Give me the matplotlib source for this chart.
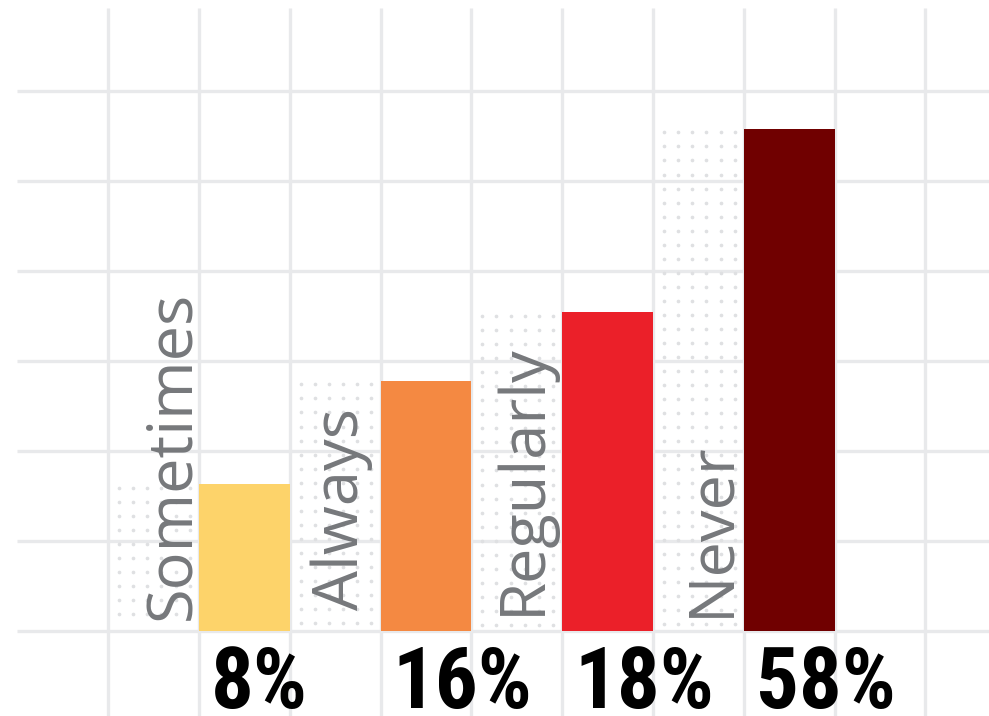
import numpy as np
import matplotlib.pyplot as plt
from matplotlib import font_manager

# data
categories = ["Sometimes", "Always", "Regularly", "Never"]
pct_labels = ["8%", "16%", "18%", "58%"]
bar_heights = [1.63, 2.78, 3.54, 5.58]   # in grid cells
colors = ["#FDD36A", "#F48942", "#EB2029", "#700000"]

# where each rotated label sits inside its dotted cell (baseline x, bottom y)
label_dx = [0.90, 0.75, 0.76, 0.83]
label_y = [0.12, 0.23, 0.18, 0.16]

GRID = "#E8E9EB"
DOT = "#DFE0E2"
LABEL = "#76787B"

# narrow bold face for the big percentages
names = {f.name for f in font_manager.fontManager.ttflist}
narrow = [n for n in ["Roboto Condensed", "Liberation Sans Narrow"] if n in names]
pct_family = [narrow[0], "DejaVu Sans"] if narrow else ["DejaVu Sans"]
pct_size = 61 if narrow else 46

fig = plt.figure(figsize=(9.89, 7.16), dpi=100)
ax = fig.add_axes([0, 0, 1, 1])
ax.set_xlim(-1.19, 9.70)
ax.set_ylim(-0.944, 7.011)
ax.axis("off")

# background grid
for k in range(7):
    ax.plot([-1.0, 9.7], [k, k], color=GRID, lw=2.4, zorder=1, solid_capstyle="butt")
for k in range(10):
    ax.plot([k, k], [-0.944, 6.92], color=GRID, lw=2.4, zorder=1, solid_capstyle="butt")

for i, (cat, pct, h, c) in enumerate(zip(categories, pct_labels, bar_heights, colors)):
    x0 = 2 * i
    # dotted panel left of the bar
    xs = x0 + 0.12 + np.arange(6) * 0.156
    ys = np.arange(h - 0.04, 0.05, -0.156)
    gx, gy = np.meshgrid(xs, ys)
    ax.scatter(gx.ravel(), gy.ravel(), s=7, color=DOT, lw=0, zorder=2)

    ax.bar(x0 + 1.5, h, width=1.0, bottom=0, color=c, zorder=3)

    ax.text(x0 + label_dx[i], label_y[i], cat, rotation=90, rotation_mode="anchor",
            ha="left", va="baseline", fontsize=45.5, color=LABEL,
            family=["Open Sans", "DejaVu Sans"], zorder=4)

    ax.text(x0 + 1.13, -0.86, pct, ha="left", va="baseline",
            fontsize=pct_size, fontweight="bold", color="black",
            family=pct_family, zorder=4)

fig.savefig("out.png", dpi=100)
